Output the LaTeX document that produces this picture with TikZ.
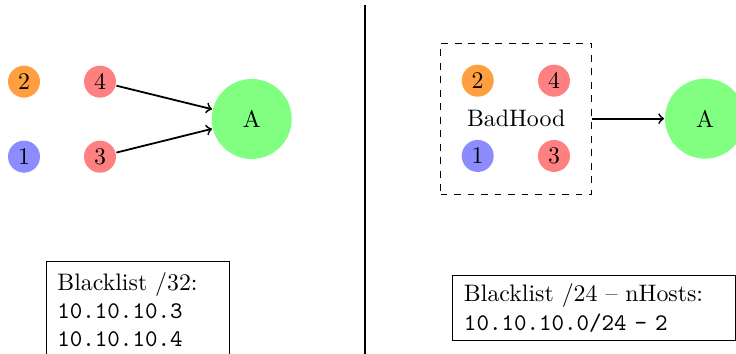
\documentclass[tikz,border=0pt]{standalone}
\usetikzlibrary{shapes, arrows, positioning}

\begin{document}
\begin{tikzpicture}[
    auto,
    node distance=1cm,
    thick,
    font=\fontsize{10.6}{12.6}\selectfont
  ]

  % Styles
  \tikzstyle{host}=[circle, minimum size=0.5cm, inner sep=0pt]
  \tikzstyle{target}=[circle, minimum size=1.25cm, inner sep=0pt, fill=green!50]
  \tikzstyle{hood}=[draw, thin, dashed, minimum width=2.36cm, minimum height=2.355cm]
  \tikzstyle{listbox}=[draw, thin, anchor=north west, align=left, inner xsep=5pt, inner ysep=3.8pt]

  \useasboundingbox (0,0) rectangle (11.5,5.531);

  % Left: hosts blacklisted one by one
  \node[host, fill=orange!75] (l2) at (0.375,4.255) {2};
  \node[host, fill=red!50] (l4) at (1.5625,4.255) {4};
  \node[host, fill=blue!45] (l1) at (0.375,3.083) {1};
  \node[host, fill=red!50] (l3) at (1.5625,3.083) {3};
  \node[target] (lA) at (3.933,3.672) {A};

  \draw[->] (l4) -- (lA);
  \draw[->] (l3) -- (lA);

  \node[listbox, text width=2.517cm, inner ysep=5pt] (list32) at (0.714,1.458)
    {Blacklist /32:\\\texttt{10.10.10.3}\\\texttt{10.10.10.4}};

  % Divider
  \draw[very thick] (5.703,5.453) -- (5.703,0);

  % Right: the whole neighbourhood
  \node[hood] (bad) at (8.066,3.677) {BadHood};
  \node[host, fill=orange!75] (r2) at (7.464,4.270) {2};
  \node[host, fill=red!50] (r4) at (8.656,4.270) {4};
  \node[host, fill=blue!45] (r1) at (7.464,3.094) {1};
  \node[host, fill=red!50] (r3) at (8.656,3.094) {3};
  \node[target] (rA) at (11.016,3.677) {A};

  \draw[->] (bad) -- (rA);

  \node[listbox, text width=4.065cm] (list24) at (7.067,1.234)
    {Blacklist /24 -- nHosts:\\\texttt{10.10.10.0/24 - 2}};

\end{tikzpicture}
\end{document}
